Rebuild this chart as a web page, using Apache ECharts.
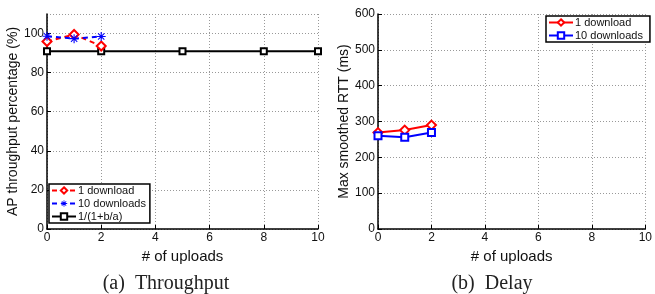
<!DOCTYPE html>
<html>
<head>
<meta charset="utf-8">
<script src="https://cdn.jsdelivr.net/npm/echarts@6/dist/echarts.min.js"></script>
<style>
  html, body { margin: 0; padding: 0; background: #fff; }
  #chart { width: 655px; height: 294px; }
</style>
</head>
<body>
<div id="chart"></div>
<script>
  // 数据
  const uploadsShort = [0, 1, 2];
  const uploadsModel = [0, 2, 5, 8, 10];
  const thrOneDownload = [95.9, 99.5, 93.6];
  const thrTenDownloads = [98.6, 97.4, 98.5];
  const thrModel = [90.9, 90.9, 90.9, 90.9, 90.9];
  const rttOneDownload = [269, 276, 290];
  const rttTenDownloads = [260, 256, 269];

  const pairs = (xs, ys) => xs.map((x, i) => [x, ys[i]]);

  // 星号标记
  const asterisk = 'path://M-0.6,-5L0.6,-5L0.6,5L-0.6,5Z M-5,-0.6L5,-0.6L5,0.6L-5,0.6Z M-3.9,-3.1L-3.1,-3.9L3.9,3.1L3.1,3.9Z M3.1,-3.9L3.9,-3.1L-3.1,3.9L-3.9,3.1Z';

  const tickFont = { color: '#111', fontSize: 12, fontFamily: 'Liberation Sans' };
  const nameFont = { color: '#111', fontSize: 14, fontFamily: 'Liberation Sans' };
  const legendText = { fontSize: 11, fontFamily: 'Liberation Sans', color: '#111', padding: [0, 0, 0, -3] };
  const captionFont = { fontFamily: 'Liberation Serif', fontWeight: 'normal', fontSize: 20, color: '#222' };

  const makeX = (gridIndex) => ({
    type: 'value', gridIndex, min: 0, max: 10, interval: 2,
    name: '# of uploads', nameLocation: 'middle', nameGap: 16,
    nameTextStyle: Object.assign({}, nameFont, { fontSize: 15 }),
    axisLine: { lineStyle: { color: '#000', width: 1.5 } },
    axisTick: { inside: true, length: 4, lineStyle: { color: '#000' } },
    axisLabel: Object.assign({ margin: 3, showMaxLabel: true }, tickFont),
    splitLine: { show: true, lineStyle: { type: [1, 2], color: '#999' } },
  });

  const chart = echarts.init(document.getElementById('chart'));
  chart.setOption({
    animation: false,
    title: [
      { text: '(a)  Throughput', left: 166, top: 274, padding: 0, textAlign: 'center', textStyle: captionFont },
      { text: '(b)  Delay', left: 492, top: 274, padding: 0, textAlign: 'center', textStyle: captionFont },
    ],
    grid: [
      { left: 47, right: 337, top: 14, bottom: 65 },
      { left: 378, right: 5, top: 14, bottom: 65 },
    ],
    xAxis: [makeX(0), makeX(1)],
    yAxis: [
      {
        type: 'value', gridIndex: 0, min: 0, max: 110, interval: 20,
        name: 'AP throughput percentage (%)', nameLocation: 'middle', nameGap: 22, nameTextStyle: nameFont,
        axisLine: { lineStyle: { color: '#000', width: 1.5 } },
        axisTick: { inside: true, length: 4, lineStyle: { color: '#000' } },
        axisLabel: Object.assign({ margin: 3, showMaxLabel: false }, tickFont),
        splitLine: { show: true, lineStyle: { type: [1, 2], color: '#999' } },
      },
      {
        type: 'value', gridIndex: 1, min: 0, max: 600, interval: 100,
        name: 'Max smoothed RTT (ms)', nameLocation: 'middle', nameGap: 23, nameTextStyle: nameFont,
        axisLine: { lineStyle: { color: '#000', width: 1.5 } },
        axisTick: { inside: true, length: 4, lineStyle: { color: '#000' } },
        axisLabel: Object.assign({ margin: 3 }, tickFont),
        splitLine: { show: true, lineStyle: { type: [1, 2], color: '#999' } },
      },
    ],
    legend: [
      {
        data: ['1 download', '10 downloads', '1/(1+b/a)'],
        orient: 'vertical', left: 49, top: 184,
        itemWidth: 24, itemHeight: 8, itemGap: 2, padding: [1, 4, 1, 2],
        borderColor: '#000', borderWidth: 1.5, backgroundColor: '#fff',
        textStyle: legendText,
      },
      {
        data: ['1 download ', '10 downloads '],
        orient: 'vertical', left: 546, top: 16,
        itemWidth: 24, itemHeight: 8, itemGap: 2, padding: [1, 4, 1, 2],
        borderColor: '#000', borderWidth: 1.5, backgroundColor: '#fff',
        textStyle: legendText,
      },
    ],
    series: [
      {
        name: '1/(1+b/a)', type: 'line', xAxisIndex: 0, yAxisIndex: 0,
        data: pairs(uploadsModel, thrModel),
        symbol: 'emptyRect', symbolSize: 6,
        itemStyle: { color: '#000', borderColor: '#000', borderWidth: 2 },
        lineStyle: { color: '#000', width: 2 },
      },
      {
        name: '1 download', type: 'line', xAxisIndex: 0, yAxisIndex: 0,
        data: pairs(uploadsShort, thrOneDownload),
        symbol: 'emptyDiamond', symbolSize: 9,
        itemStyle: { color: '#ff0000', borderWidth: 2 },
        lineStyle: { color: '#ff0000', width: 2, type: [5, 4] },
      },
      {
        name: '10 downloads', type: 'line', xAxisIndex: 0, yAxisIndex: 0,
        data: pairs(uploadsShort, thrTenDownloads),
        symbol: asterisk, symbolSize: 9,
        itemStyle: { color: '#0000ff' },
        lineStyle: { color: '#0000ff', width: 2, type: [5, 4] },
      },
      {
        name: '1 download ', type: 'line', xAxisIndex: 1, yAxisIndex: 1,
        data: pairs(uploadsShort, rttOneDownload),
        symbol: 'emptyDiamond', symbolSize: 9,
        itemStyle: { color: '#ff0000', borderWidth: 2 },
        lineStyle: { color: '#ff0000', width: 2 },
      },
      {
        name: '10 downloads ', type: 'line', xAxisIndex: 1, yAxisIndex: 1,
        data: pairs(uploadsShort, rttTenDownloads),
        symbol: 'emptyRect', symbolSize: 7,
        itemStyle: { color: '#0000ff', borderWidth: 2 },
        lineStyle: { color: '#0000ff', width: 2 },
      },
    ],
  });
</script>
</body>
</html>
